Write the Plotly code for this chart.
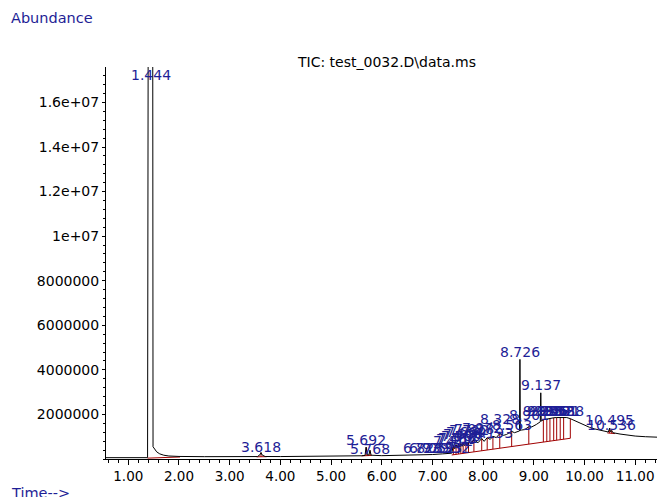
import numpy as np
import plotly.graph_objects as go

# ---- chromatogram (TIC) ----
curve_t = [0.56, 1.00, 1.38, 1.392, 1.482, 1.488, 1.52, 1.56, 1.62, 1.70, 1.80, 2.00, 2.50, 3.00,
           3.55, 3.60, 3.618, 3.64, 3.70, 4.00, 4.50, 5.00, 5.40, 5.60, 5.67, 5.692, 5.715, 5.745,
           5.768, 5.79, 6.00, 6.40, 6.80, 7.00, 7.20, 7.30, 7.38, 7.412, 7.44, 7.466, 7.49, 7.512,
           7.535, 7.560, 7.585, 7.606, 7.635, 7.660, 7.685, 7.712, 7.76, 7.818, 7.90, 7.972, 8.02,
           8.080, 8.14, 8.193, 8.26, 8.328, 8.40, 8.46, 8.563, 8.62, 8.70, 8.718, 8.726, 8.734,
           8.76, 8.82, 8.901, 8.96, 9.05, 9.11, 9.128, 9.137, 9.146, 9.16, 9.188, 9.256, 9.318,
           9.392, 9.451, 9.521, 9.588, 9.65, 9.72, 9.80, 9.90, 10.00, 10.10, 10.20, 10.30, 10.40,
           10.47, 10.495, 10.515, 10.536, 10.56, 10.70, 10.85, 11.00, 11.20, 11.43]
curve_a = [6e4, 6e4, 6e4, 1.9e7, 1.9e7, 5.5e5, 4.2e5, 3.2e5, 2.3e5, 1.7e5, 1.35e5, 1.15e5, 1.05e5, 1.05e5,
           1.1e5, 2.0e5, 2.9e5, 1.8e5, 1.12e5, 1.1e5, 1.15e5, 1.25e5, 1.3e5, 1.45e5, 1.6e5, 5.3e5, 1.8e5, 1.8e5,
           3.9e5, 1.7e5, 1.5e5, 1.6e5, 1.8e5, 2.0e5, 2.3e5, 2.45e5, 2.6e5, 6.0e5, 4.6e5, 6.4e5, 5.0e5, 6.7e5,
           5.4e5, 6.9e5, 5.7e5, 7.1e5, 6.0e5, 7.3e5, 6.3e5, 7.6e5, 6.8e5, 8.6e5, 7.3e5, 9.2e5, 7.9e5,
           9.6e5, 8.8e5, 1.02e6, 9.6e5, 1.14e6, 1.06e6, 1.10e6, 1.24e6, 1.18e6, 1.24e6, 1.26e6, 4.47e6, 1.28e6,
           1.30e6, 1.32e6, 1.45e6, 1.44e6, 1.55e6, 1.64e6, 1.67e6, 2.97e6, 1.70e6, 1.72e6, 1.76e6, 1.80e6, 1.83e6,
           1.85e6, 1.86e6, 1.87e6, 1.87e6, 1.86e6, 1.81e6, 1.73e6, 1.61e6, 1.50e6, 1.42e6, 1.35e6, 1.29e6, 1.24e6,
           1.21e6, 1.39e6, 1.22e6, 1.28e6, 1.18e6, 1.12e6, 1.07e6, 1.03e6, 1.00e6, 0.98e6]

# ---- integration baselines (red) ----
grp_start_t = [1.38, 3.53, 5.60, 7.38, 10.45]
grp_start_a = [4e4, 1.0e5, 1.4e5, 1.8e5, 1.17e6]
grp_end_t = [2.02, 3.73, 5.80, 9.72, 10.60]
grp_end_a = [9e4, 1.05e5, 1.6e5, 9.3e5, 1.14e6]
drop_t = [3.618, 5.692, 5.768,
          7.412, 7.466, 7.512, 7.560, 7.606, 7.660, 7.712, 7.818, 7.972, 8.080, 8.193, 8.328,
          8.563, 8.901, 9.188, 9.256, 9.318, 9.392, 9.451, 9.521, 9.588, 9.72,
          10.495, 10.536]
drop_grp = [1, 2, 2] + [3] * 22 + [4, 4]

# ---- peak labels ----
lab_text = ["1.444", "3.618", "5.692", "5.768", "6.823", "6.939", "7.052", "7.193", "7.352",
            "7.412", "7.466", "7.512", "7.560", "7.606", "7.660", "7.712", "7.818", "7.972",
            "8.193", "8.328", "8.563", "8.726", "8.901", "9.137",
            "9.188", "9.256", "9.318", "9.392", "9.451", "9.521", "9.588", "10.495", "10.536"]
lab_t = [1.444, 3.618, 5.692, 5.768, 6.823, 6.939, 7.052, 7.193, 7.352,
         7.412, 7.466, 7.512, 7.560, 7.606, 7.660, 7.712, 7.818, 7.972,
         8.193, 8.328, 8.563, 8.726, 8.901, 9.137,
         9.188, 9.256, 9.318, 9.392, 9.451, 9.521, 9.588, 10.495, 10.536]
lab_a = [1.722e7, 5.4e5, 8.5e5, 4.5e5, 4.8e5, 4.8e5, 4.8e5, 4.8e5, 4.8e5,
         8.0e5, 8.8e5, 9.6e5, 1.04e6, 1.12e6, 1.20e6, 1.28e6, 1.36e6, 1.40e6,
         1.17e6, 1.79e6, 1.52e6, 4.8e6, 1.97e6, 3.32e6,
         2.15e6, 2.15e6, 2.15e6, 2.15e6, 2.15e6, 2.15e6, 2.15e6, 1.75e6, 1.52e6]

y_tickvals = [2e6, 4e6, 6e6, 8e6, 1e7, 1.2e7, 1.4e7, 1.6e7]
y_ticktext = ["2000000", "4000000", "6000000", "8000000", "1e+07", "1.2e+07", "1.4e+07", "1.6e+07"]

RED = "#a00000"
BLUE = "#1e1e96"
FONT = "DejaVu Sans"

# build red integration segments
rx, ry = [], []
for i in range(len(grp_start_t)):
    rx += [grp_start_t[i], grp_end_t[i], None]
    ry += [grp_start_a[i], grp_end_a[i], None]
for t, g in zip(drop_t, drop_grp):
    b = np.interp(t, [grp_start_t[g], grp_end_t[g]], [grp_start_a[g], grp_end_a[g]])
    top = np.interp(t, curve_t, curve_a)
    rx += [t, t, None]
    ry += [b, top, None]

fig = go.Figure()
fig.add_trace(go.Scatter(x=rx, y=ry, mode="lines", line=dict(color=RED, width=1),
                         hoverinfo="skip", showlegend=False))
fig.add_trace(go.Scatter(x=curve_t, y=curve_a, mode="lines", line=dict(color="black", width=1),
                         showlegend=False))

for txt, t, a in zip(lab_text, lab_t, lab_a):
    fig.add_annotation(x=t, y=a, xref="x", yref="y", text=txt, showarrow=False,
                       font=dict(family=FONT, size=14, color=BLUE),
                       xanchor="center", yanchor="middle")

L, R, T, B = 106, 0, 67, 38
W, H = 657, 497
pw, ph = W - L - R, H - T - B


def px(x):
    return (x - L) / pw


def py(y):
    return (H - B - y) / ph


fig.add_annotation(x=px(9), y=py(18), xref="paper", yref="paper", text="Abundance",
                   showarrow=False, xanchor="left", yanchor="middle",
                   font=dict(family=FONT, size=14.5, color=BLUE))
fig.add_annotation(x=px(9), y=py(493), xref="paper", yref="paper", text="Time-->",
                   showarrow=False, xanchor="left", yanchor="middle",
                   font=dict(family=FONT, size=14.5, color=BLUE))
fig.add_annotation(x=px(386), y=py(62.5), xref="paper", yref="paper",
                   text="TIC: test_0032.D\\data.ms", showarrow=False,
                   xanchor="center", yanchor="middle",
                   font=dict(family=FONT, size=14, color="black"))

fig.update_layout(
    width=W, height=H,
    margin=dict(l=L, r=R, t=T, b=B, pad=0),
    paper_bgcolor="white", plot_bgcolor="white",
    showlegend=False,
    xaxis=dict(range=[0.56, 11.43], showline=True, linecolor="black", linewidth=1,
               ticks="outside", ticklen=5, tickwidth=1, tickcolor="black",
               tickmode="linear", tick0=1, dtick=1, tickformat=".2f",
               minor=dict(dtick=0.2, tick0=0, ticks="outside", ticklen=3, tickcolor="black"),
               showgrid=False, zeroline=False, automargin=False,
               tickfont=dict(family=FONT, size=13.5, color="black")),
    yaxis=dict(range=[0, 1.759e7], showline=True, linecolor="black", linewidth=1,
               ticks="outside", ticklen=3, tickwidth=1, tickcolor="black",
               tickmode="array", tickvals=y_tickvals, ticktext=y_ticktext,
               minor=dict(dtick=4e5, tick0=0, ticks="outside", ticklen=2, tickcolor="black"),
               showgrid=False, zeroline=False, automargin=False,
               tickfont=dict(family=FONT, size=14, color="black")),
)

fig.write_html("out.html", config={"displayModeBar": False},
               post_script="document.body.style.margin='0';document.body.style.overflow='hidden';")
